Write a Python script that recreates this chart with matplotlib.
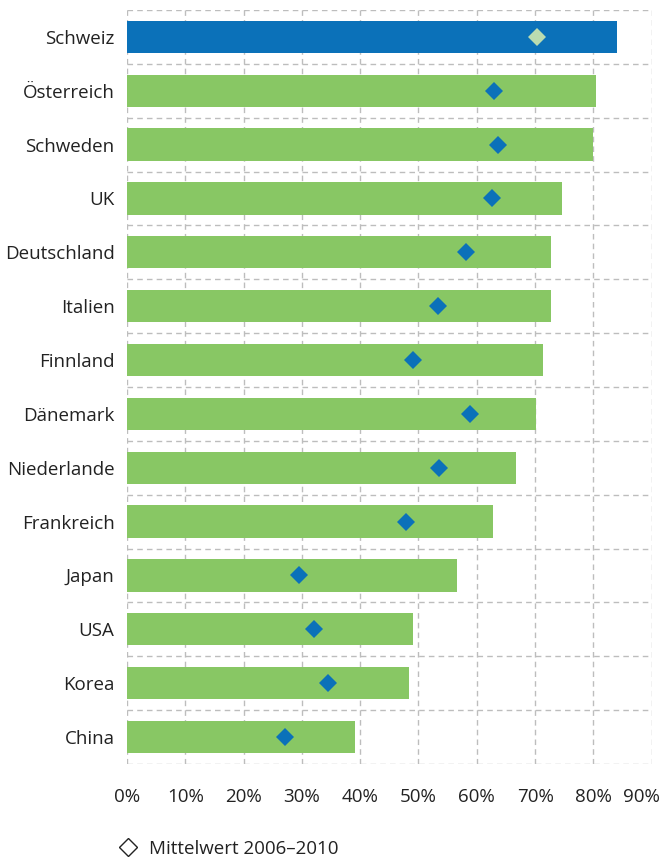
import matplotlib.pyplot as plt
import matplotlib.transforms as mtransforms
from matplotlib.lines import Line2D
from matplotlib.ticker import FixedLocator

countries = ['Schweiz', 'Österreich', 'Schweden', 'UK', 'Deutschland', 'Italien', 'Finnland',
             'Dänemark', 'Niederlande', 'Frankreich', 'Japan', 'USA', 'Korea', 'China']
values = [84.1, 80.5, 79.9, 74.6, 72.7, 72.7, 71.3, 70.2, 66.8, 62.8, 56.6, 49.0, 48.3, 39.1]
means = [70.3, 63.0, 63.6, 62.6, 58.1, 53.4, 49.1, 58.8, 53.6, 47.8, 29.5, 32.1, 34.5, 27.1]
xticks = [0, 10, 20, 30, 40, 50, 60, 70, 80, 90]

blue = '#0B71B9'
green = '#88C764'
light_green = '#BADCB0'

plt.rcParams['font.family'] = ['Open Sans', 'DejaVu Sans']

fig = plt.figure(figsize=(6.67, 8.61), dpi=100)
ax = fig.add_axes([0.1904, 0.1127, 0.977 - 0.1904, 0.9884 - 0.1127])

ypos = list(range(len(countries)))
bar_colors = [blue if c == 'Schweiz' else green for c in countries]
ax.barh(ypos, values, height=0.6, color=bar_colors, zorder=2)
for y, m, c in zip(ypos, means, countries):
    ax.plot(m, y, marker='D', markersize=9.5, linestyle='none',
            color=light_green if c == 'Schweiz' else blue, markeredgewidth=0, zorder=3)

ax.set_xlim(0, 90)
ax.set_ylim(len(countries) - 0.5, -0.5)
ax.set_xticks(xticks)
ax.set_xticklabels([f'{t}%' for t in xticks])
ax.set_yticks(ypos)
ax.set_yticklabels(countries)
ax.yaxis.set_minor_locator(FixedLocator([i - 0.5 for i in range(len(countries) + 1)]))
ax.tick_params(axis='both', which='both', length=0, labelsize=13.5, colors='#222222')
ax.tick_params(axis='y', pad=9)
ax.tick_params(axis='x', pad=17)

# last tick label sits at the figure edge, nudge it left so it stays visible
last = ax.get_xticklabels()[-1]
last.set_transform(last.get_transform() + mtransforms.ScaledTranslation(-7 / 72, 0, fig.dpi_scale_trans))

ax.grid(axis='x', which='major', linestyle=(0, (4, 3)), color='#BDBDBD', linewidth=1, zorder=0)
ax.grid(axis='y', which='minor', linestyle=(0, (4, 3)), color='#BDBDBD', linewidth=1, zorder=0)
ax.grid(axis='y', which='major', visible=False)
for s in ax.spines.values():
    s.set_visible(False)

handle = Line2D([], [], marker='D', markersize=9, linestyle='none',
                markerfacecolor='white', markeredgecolor='#222222', markeredgewidth=1)
fig.legend([handle], ['Mittelwert 2006–2010'], loc='center left',
           bbox_to_anchor=(0.15, 0.014), frameon=False, fontsize=13.5,
           handletextpad=0.5, handlelength=1.2, labelcolor='#222222')

fig.savefig('out.png', dpi=100)
